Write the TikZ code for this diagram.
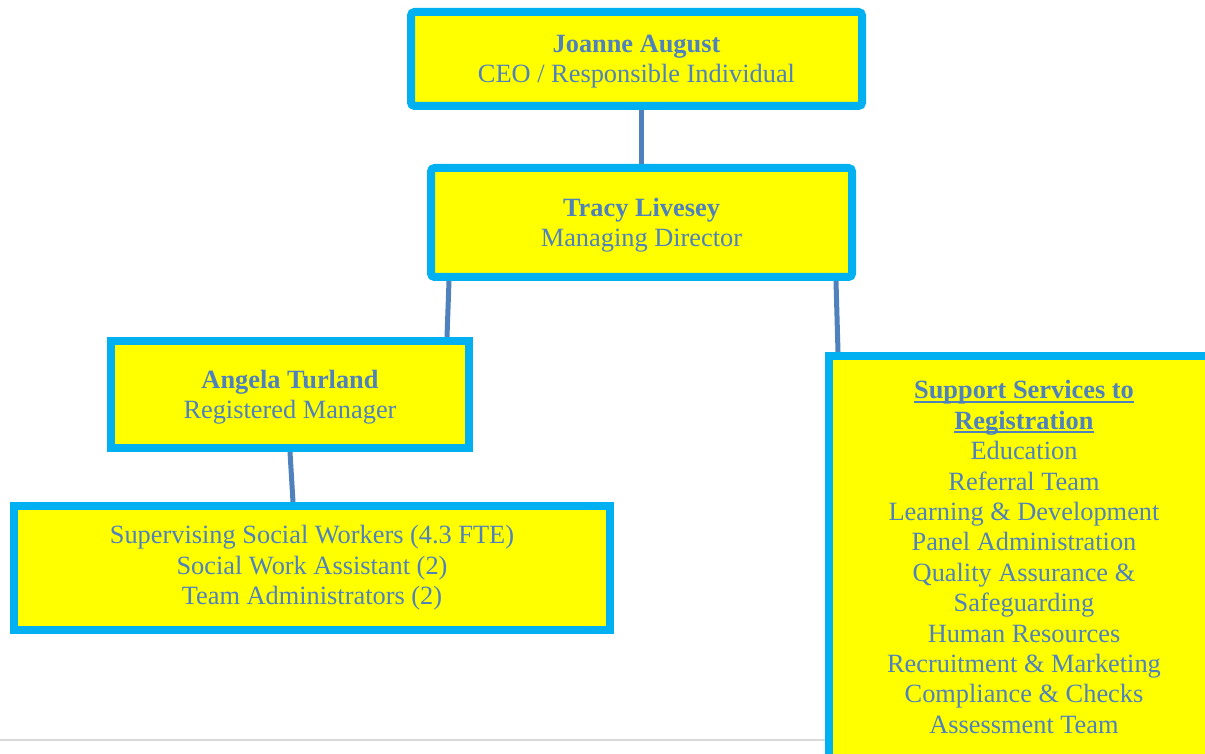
\documentclass[tikz,border=0pt]{standalone}
\usepackage{fontspec}
\setmainfont{Liberation Serif}
\usepackage{xcolor}
\usetikzlibrary{positioning,shadows}
\definecolor{boxcyan}{HTML}{00B0F0}
\definecolor{boxyellow}{HTML}{FFFF00}
\definecolor{linkblue}{HTML}{4F81BD}
\newcommand{\ulhead}[1]{\setbox0\hbox{\textbf{#1}}\rlap{\rule[-2.2pt]{\wd0}{0.9pt}}\box0}

\begin{document}
\begin{tikzpicture}[node distance = 1.08cm]
        \tikzstyle{post} = [rectangle, draw = boxcyan, fill = boxyellow, line width = 0.16cm, align = center, text = linkblue, font = \fontsize{15}{17.3}\selectfont, inner sep = 0pt]
        \tikzstyle{head} = [post, rounded corners = 2pt, drop shadow = {opacity = 0.35, shadow xshift = 0.4pt, shadow yshift = -1.5pt}]
        \tikzstyle{link} = [draw = linkblue, line width = 0.1cm]
        \useasboundingbox (0,0) rectangle (24.1,-15.08);
        \clip (0,0) rectangle (24.1,-15.08);
        \draw [gray!30, line width = 0.04cm] (0,-14.8) -- (16.6,-14.8);
        \node at (12.73,-1.18) (ceo) [head, text depth = -1.5pt, minimum width = 9.02cm, minimum height = 1.88cm]
        {\textbf{Joanne August} \\ CEO / Responsible Individual};
        \node (md) [head, text depth = -1pt, below = of ceo, xshift = 0.1cm, minimum width = 8.42cm, minimum height = 2.18cm]
        {\textbf{Tracy Livesey} \\ Managing Director};
        \node at (5.80,-7.89) (rm) [post, text depth = -1pt, minimum width = 7.16cm, minimum height = 2.14cm]
        {\textbf{Angela Turland} \\ Registered Manager};
        \node at (6.24,-11.36) (team) [post, minimum width = 11.92cm, minimum height = 2.48cm]
        {Supervising Social Workers (4.3 FTE) \\ Social Work Assistant (2) \\ Team Administrators (2)};
        \node at (20.48,-11.14) (support) [post, minimum width = 7.8cm, minimum height = 8.04cm]
        {\ulhead{Support Services to} \\ \ulhead{Registration} \\ Education \\ Referral Team \\ Learning \& Development \\ Panel Administration \\ Quality Assurance \& \\ Safeguarding \\ Human Resources \\ Recruitment \& Marketing \\ Compliance \& Checks \\ Assessment Team};
        \draw [link] (ceo.south -| md.north) -- (md.north);
        \draw [link] ([xshift = 0.44cm]md.south west) -- ([xshift = -0.52cm]rm.north east);
        \draw [link] ([xshift = -0.4cm]md.south east) -- ([xshift = 0.26cm]support.north west);
        \draw [link] (rm.south) -- ([xshift = -0.38cm]team.north);
    \end{tikzpicture}
\end{document}
